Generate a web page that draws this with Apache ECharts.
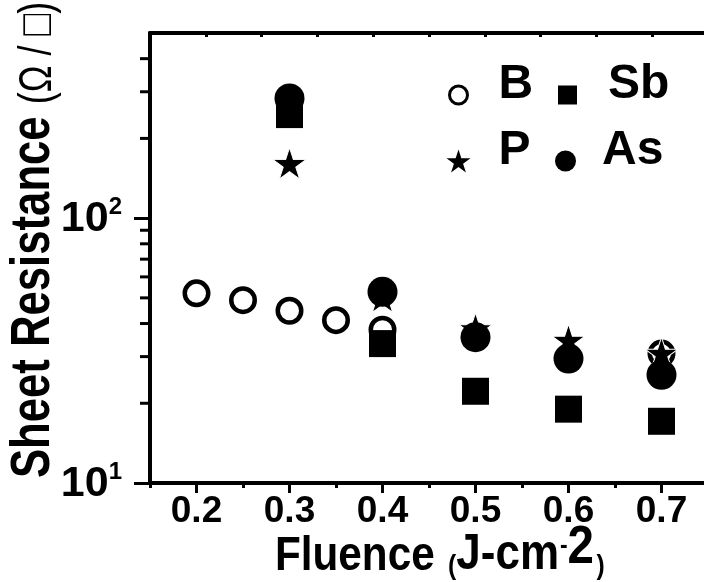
<!DOCTYPE html>
<html>
<head>
<meta charset="utf-8">
<script src="https://cdn.jsdelivr.net/npm/echarts@6/dist/echarts.min.js"></script>
<style>
  html, body { margin: 0; padding: 0; background: #fff; }
  #chart { width: 704px; height: 582px; }
</style>
</head>
<body>
<div id="chart"></div>
<script>
// Sheet resistance vs laser fluence for four dopants
const fluenceB  = [0.2, 0.25, 0.3, 0.35, 0.4, 0.7];
const valuesB   = [52, 49, 44.7, 41.2, 37.9, 30.8];
const fluence   = [0.3, 0.4, 0.5, 0.6, 0.7];
const valuesSb  = [246, 33.6, 22.2, 19.0, 17.1];
const valuesP   = [161, 50.5, 38.3, 34.7, 31.0];
const valuesAs  = [283, 52.7, 35.5, 29.5, 25.6];
const yMinorTicks = [20, 30, 40, 50, 60, 70, 80, 90, 200, 300, 400];

const FONT = "'Liberation Sans', Arial, Helvetica, sans-serif";
const STAR = 'path://M100 0 L122.45 69.1 L195.11 69.1 L136.33 111.8 L158.78 180.9 L100 138.2 L41.22 180.9 L63.67 111.8 L4.89 69.1 L77.55 69.1 Z';

const pairs = (xs, ys) => xs.map((x, i) => [x, ys[i]]);

const chart = echarts.init(document.getElementById('chart'), null, { renderer: 'canvas' });

// one legend block per entry so each icon/label pair can be placed on its own
function legendEntry(item, left, top, size, pad) {
  return {
    left: left, top: top, itemWidth: size, itemHeight: size, selectedMode: false,
    formatter: '{t|{name}}',
    textStyle: {
      rich: {
        t: { fontFamily: FONT, fontWeight: 'bold', fontSize: 48, color: '#000', padding: [0, 0, 20, pad] }
      }
    },
    data: [item]
  };
}

const boldToken = (size, raise, padL, padR) => ({
  fontFamily: FONT, fontWeight: 'bold', fontSize: size, color: '#000',
  verticalAlign: 'bottom', padding: [0, padR || 0, raise || 0, padL || 0]
});

chart.setOption({
  animation: false,
  backgroundColor: '#fff',
  grid: { left: 150, top: 33, width: 558, height: 450, containLabel: false, outerBoundsMode: 'none' },
  legend: [
    legendEntry({ name: 'B', icon: 'circle', itemStyle: { color: '#fff', borderColor: '#000', borderWidth: 3 } }, 443, 56, 18, 26),
    legendEntry({ name: 'Sb', icon: 'rect' }, 553, 56, 19, 26),
    legendEntry({ name: 'P', icon: STAR, itemStyle: { borderWidth: 0 } }, 441.5, 122, 24, 23),
    legendEntry({ name: 'As', icon: 'circle' }, 550, 122, 21, 21)
  ],
  graphic: [
    {
      // y-axis title, condensed bold face
      type: 'text', x: 34, y: 240, rotation: Math.PI / 2, scaleX: 0.78, scaleY: 1, silent: true,
      style: {
        text: '{b|Sheet Resistance }{n|(Ω / □)}',
        x: 0, y: 0, align: 'center', verticalAlign: 'middle',
        rich: {
          b: boldToken(56),
          n: { fontFamily: FONT, fontWeight: 'normal', fontSize: 46, color: '#000', verticalAlign: 'bottom', padding: [0, 0, 1, 0] }
        }
      }
    },
    {
      // x-axis title
      type: 'text', x: 275, y: 551, scaleX: 0.88, scaleY: 1, silent: true,
      style: {
        text: '{b|Fluence }{p|(}{j|J-cm}{m|-}{t|2}{q|)}',
        x: 0, y: 0, align: 'left', verticalAlign: 'middle',
        rich: {
          b: boldToken(48),
          j: boldToken(50),
          p: boldToken(28, 0, 2, 0),
          q: boldToken(28, 0, 1, 0),
          m: boldToken(26, 22, 1, 0),
          t: boldToken(54, 5, 0, 2)
        }
      }
    }
  ],
  xAxis: [
    {
      type: 'value', position: 'bottom', min: 0.15, max: 0.75, splitNumber: 6,
      axisLine: { lineStyle: { color: '#000', width: 4 } },
      axisTick: { length: 10, lineStyle: { color: '#000', width: 3 } },
      splitLine: { show: false },
      axisLabel: {
        showMinLabel: false, showMaxLabel: false, margin: 10,
        color: '#000', fontFamily: FONT, fontWeight: 'bold', fontSize: 37,
        formatter: v => v.toFixed(1)
      }
    },
    {
      // half-step tick marks along the bottom axis
      type: 'value', position: 'bottom', min: 0.15, max: 0.75, splitNumber: 12,
      axisLine: { show: false },
      axisTick: { length: 5, lineStyle: { color: '#000', width: 3 } },
      axisLabel: { show: false },
      splitLine: { show: false }
    },
    {
      // frame line along the top with small inward ticks
      type: 'value', position: 'top', min: 0, max: 0.6, interval: 0.06,
      axisLine: { lineStyle: { color: '#000', width: 4 } },
      axisTick: { inside: true, length: 4, lineStyle: { color: '#000', width: 3 } },
      axisLabel: { show: false },
      splitLine: { show: false }
    }
  ],
  yAxis: {
    type: 'log', logBase: 10, min: 10, max: 500,
    axisLine: { show: true, lineStyle: { color: '#000', width: 4 } },
    axisTick: { length: 16, lineStyle: { color: '#000', width: 3 } },
    splitLine: { show: false },
    axisLabel: {
      showMaxLabel: false, margin: 28,
      formatter: v => '{b|10}{s|' + Math.round(Math.log10(v)) + '}',
      rich: {
        b: boldToken(43),
        s: boldToken(24, 22)
      }
    }
  },
  series: [
    {
      name: 'B', type: 'scatter', data: pairs(fluenceB, valuesB),
      symbol: 'circle', symbolSize: 23.5, z: 2,
      itemStyle: { color: '#fff', borderColor: '#000', borderWidth: 4.5, opacity: 1 }
    },
    {
      name: 'Sb', type: 'scatter', data: pairs(fluence, valuesSb),
      symbol: 'rect', symbolSize: 27, z: 3,
      itemStyle: { color: '#000', opacity: 1 }
    },
    {
      name: 'P', type: 'scatter', data: pairs(fluence, valuesP),
      symbol: STAR, symbolSize: [33, 31.5], z: 4,
      itemStyle: { color: '#000', borderColor: '#fff', borderWidth: 1, opacity: 1 }
    },
    {
      name: 'As', type: 'scatter', data: pairs(fluence, valuesAs),
      symbol: 'circle', symbolSize: 30, z: 5,
      itemStyle: { color: '#000', opacity: 1 }
    },
    {
      // minor ticks of the logarithmic axis (2..9 per decade)
      type: 'custom', silent: true, clip: false, z: 6,
      data: yMinorTicks.map(v => [0.15, v]),
      renderItem: (params, api) => {
        const p = api.coord([api.value(0), api.value(1)]);
        return {
          type: 'line',
          shape: { x1: p[0] - 10, y1: p[1], x2: p[0], y2: p[1] },
          style: { stroke: '#000', lineWidth: 3 }
        };
      }
    }
  ]
});
</script>
</body>
</html>
